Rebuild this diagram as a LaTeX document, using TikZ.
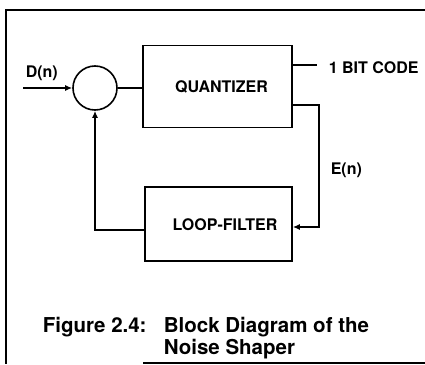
\documentclass[tikz,border=0pt]{standalone}
\usepackage{fontspec}
\setmainfont{TeX Gyre Heros}
\usetikzlibrary{arrows.meta}
\begin{document}
\begin{tikzpicture}[x=1pt,y=-1pt,
  line width=1.6pt,
  blk/.style={draw,rectangle,minimum width=#1,inner sep=0pt},
  lbl/.style={font=\fontsize{16}{18}\selectfont\bfseries,inner sep=0pt},
  captxt/.style={font=\fontsize{20.5}{24}\selectfont\bfseries,inner sep=0pt,anchor=base west},
  arr/.style={-{Latex[length=7pt,width=6pt]}}]
\useasboundingbox (0,0) rectangle (425,364);
% frame
\draw[line width=2.2pt] (425,10) -- (6,10) -- (6,364);
\draw[line width=2.2pt] (143,363) -- (425,363);
% blocks
\node[draw,circle,minimum size=44pt,inner sep=0pt] (sum) at (95,88) {};
\node[blk=149pt,minimum height=82pt] (quant) at (217.5,86.5) {};
\node[blk=147pt,minimum height=74pt] (loop) at (218.5,224) {};
\node[lbl,anchor=base] (qt) at (221.5,92) {QUANTIZER};
\node[lbl,anchor=base] (lt) at (225,230) {LOOP-FILTER};
% labels
\node[lbl,anchor=base west] (dn) at (25,77) {D(n)};
\node[lbl,anchor=base west] (code) at (328,73) {1 BIT CODE};
\node[lbl,anchor=base west] (en) at (330,174) {E(n)};
\coordinate (in) at (23,88);
\coordinate (out) at (317,65);
% connectors
\draw[arr] (in) -- (sum.west);
\draw (sum.east) -- (sum.east -| quant.west);
\draw ([yshift=21.5pt]quant.east) -- (out);
\draw[arr] ([yshift=-18.5pt]quant.east) -- ++(26,0) |- ([yshift=-3pt]loop.east);
\draw[arr] ([yshift=-6pt]loop.west) -| (sum.south);
% caption
\node[captxt] (c1) at (42,332) {Figure 2.4:};
\node[captxt] (c2) at (163,332) {Block Diagram of the};
\node[captxt] (c3) at (163,354) {Noise Shaper};
\end{tikzpicture}
\end{document}
